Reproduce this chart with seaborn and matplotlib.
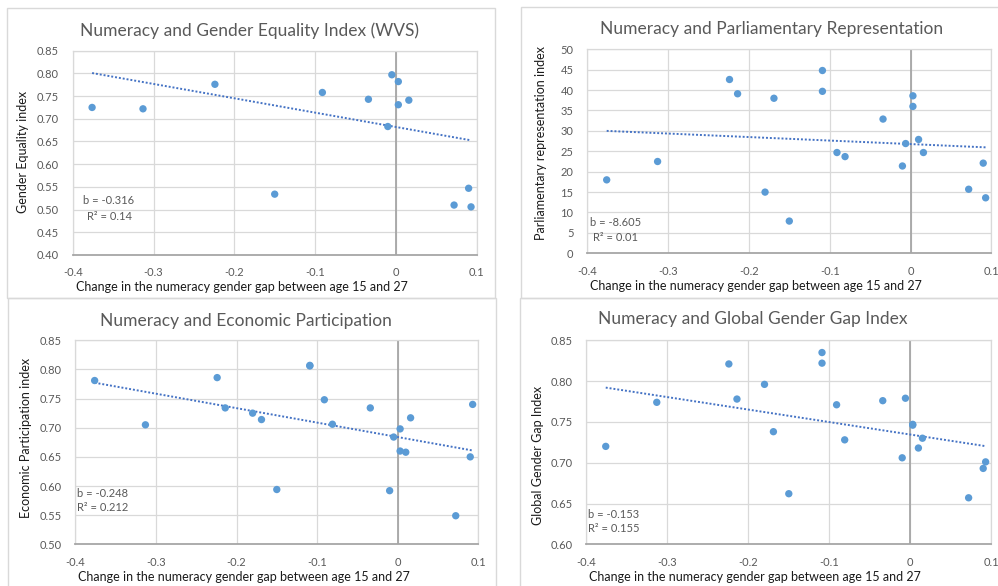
import matplotlib
matplotlib.use("Agg")
import matplotlib.pyplot as plt
import matplotlib.patches as mpatches
import numpy as np
import pandas as pd
import seaborn as sns

# ---------------- data ----------------
x_wvs = [-0.376, -0.313, -0.224, -0.150, -0.091, -0.034, -0.010, -0.005, 0.003, 0.003, 0.016, 0.072, 0.090, 0.093]
y_wvs = [0.725, 0.722, 0.776, 0.534, 0.758, 0.743, 0.683, 0.797, 0.782, 0.731, 0.741, 0.510, 0.547, 0.506]

x_parl = [-0.376, -0.313, -0.224, -0.214, -0.180, -0.169, -0.150, -0.109, -0.109, -0.091, -0.081,
          -0.034, -0.010, -0.006, 0.003, 0.003, 0.010, 0.016, 0.072, 0.090, 0.093]
y_parl = [18.0, 22.5, 42.6, 39.1, 15.0, 38.0, 7.9, 44.8, 39.7, 24.7, 23.7,
          32.9, 21.4, 26.9, 38.6, 36.0, 27.9, 24.7, 15.7, 22.1, 13.6]

x_econ = [-0.376, -0.313, -0.224, -0.214, -0.180, -0.169, -0.150, -0.109, -0.109, -0.091, -0.081,
          -0.034, -0.010, -0.005, 0.003, 0.003, 0.010, 0.016, 0.072, 0.090, 0.093]
y_econ = [0.781, 0.705, 0.786, 0.734, 0.725, 0.714, 0.594, 0.807, 0.806, 0.748, 0.706,
          0.734, 0.592, 0.684, 0.698, 0.660, 0.658, 0.717, 0.549, 0.650, 0.740]

x_ggg = [-0.376, -0.313, -0.224, -0.214, -0.180, -0.169, -0.150, -0.109, -0.109, -0.091, -0.081,
         -0.034, -0.010, -0.006, 0.003, 0.003, 0.010, 0.015, 0.072, 0.090, 0.093]
y_ggg = [0.720, 0.774, 0.821, 0.778, 0.796, 0.738, 0.662, 0.835, 0.822, 0.771, 0.728,
         0.776, 0.706, 0.779, 0.747, 0.746, 0.718, 0.730, 0.657, 0.693, 0.701]

titles = ["Numeracy and Gender Equality Index (WVS)",
          "Numeracy and Parliamentary Representation",
          "Numeracy and Economic Participation",
          "Numeracy and Global Gender Gap Index"]
ylabels = ["Gender Equality index",
           "Parliamentary representation index",
           "Economic Participation index",
           "Global Gender Gap Index"]
xlabel = "Change in the numeracy gender gap between age 15 and 27"
b_texts = ["b = -0.316", "b = -8.605", "b = -0.248", "b = -0.153"]
r2_texts = ["R\u00b2 = 0.14", "R\u00b2 = 0.01", "R\u00b2 = 0.212", "R\u00b2 = 0.155"]
trend_slope = [-0.316, -8.605, -0.248, -0.153]
trend_intercept = [0.682, 26.77, 0.684, 0.7345]
y_limits = [(0.40, 0.85), (0, 50), (0.50, 0.85), (0.60, 0.85)]
y_steps = [0.05, 5, 0.05, 0.05]
y_formats = ["{:.2f}", "{:.0f}", "{:.2f}", "{:.2f}"]
x_ticks = [-0.4, -0.3, -0.2, -0.1, 0.0, 0.1]
x_ticklabels = ["-0.4", "-0.3", "-0.2", "-0.1", "0", "0.1"]

series = [(x_wvs, y_wvs), (x_parl, y_parl), (x_econ, y_econ), (x_ggg, y_ggg)]

# ---------------- style ----------------
sns.set_theme(style="white")
plt.rcParams['font.family'] = ['Lato', 'DejaVu Sans']

W, H = 998, 586
fig = plt.figure(figsize=(W / 100, H / 100), dpi=100)
fig.patch.set_facecolor("white")

def fbox(l, t, r, b):
    return [l / W, 1 - b / H, (r - l) / W, (b - t) / H]

# plot-area boxes in pixels (left, top, right, bottom)
axes_px = [(72.7, 50.7, 476.7, 255.0),
           (587.3, 49.3, 991.3, 253.3),
           (75.3, 340.3, 478.3, 544.3),
           (586.3, 340.3, 991.3, 544.3)]
panel_px = [(7, 8, 495, 298), (521, 7, 1003, 298), (8, 298, 496, 592), (520, 298, 1003, 592)]
title_px = [(250.0, 30.7), (771.7, 29.0), (245.5, 321.0), (752.8, 319.3)]
xlabel_px = [(242.3, 287.3), (756.0, 285.7), (243.7, 576.7), (755.3, 576.7)]
ylabel_px = [(23.3, 151.7), (540.7, 142.8), (25.7, 438.3), (538.3, 455.8)]
b_px = [(83.3, 201.0), (590.0, 222.3), (76.7, 493.3), (588.3, 514.0)]
r2_px = [(86.7, 216.3), (592.7, 237.3), (76.7, 507.7), (588.3, 529.0)]

GRAY_TXT = "#595959"
GRID = "#D9D9D9"
DOT = "#5B9BD5"
TREND = "#4472C4"

for (l, t, r, b) in panel_px:
    fig.patches.append(mpatches.Rectangle((l / W, 1 - b / H), (r - l) / W, (b - t) / H,
                                          transform=fig.transFigure, fill=False,
                                          edgecolor=GRID, linewidth=1.0))

for i in range(4):
    xs, ys = series[i]
    ax = fig.add_axes(fbox(*axes_px[i]))
    df = pd.DataFrame({"x": xs, "y": ys})
    ylo, yhi = y_limits[i]
    yt = np.arange(ylo, yhi + y_steps[i] / 2, y_steps[i])
    ax.set_xlim(-0.4, 0.1)
    ax.set_ylim(ylo, yhi)
    ax.set_yticks(yt)
    ax.set_yticklabels([y_formats[i].format(v) for v in yt])
    ax.set_xticks(x_ticks)
    ax.set_xticklabels(x_ticklabels)
    ax.grid(True, color=GRID, linewidth=0.9)
    ax.set_axisbelow(True)
    ax.axvline(0, color="#A6A6A6", linewidth=1.3, zorder=1)
    for s in ["left", "right", "top"]:
        ax.spines[s].set_color(GRID)
        ax.spines[s].set_linewidth(0.9)
    ax.spines["bottom"].set_color("#A6A6A6")
    ax.spines["bottom"].set_linewidth(1.3)
    ax.tick_params(axis="both", length=0, labelsize=8, labelcolor=GRAY_TXT)
    ax.tick_params(axis="y", pad=10)
    ax.tick_params(axis="x", pad=9)

    sns.scatterplot(data=df, x="x", y="y", ax=ax, color=DOT, s=28, edgecolor="none", zorder=3)
    xr = np.array([min(xs), max(xs)])
    ax.plot(xr, trend_intercept[i] + trend_slope[i] * xr, linestyle=(0, (1, 1)),
            color=TREND, linewidth=1.4, zorder=2)
    ax.set_xlabel("")
    ax.set_ylabel("")

    tx, ty = title_px[i]
    fig.text(tx / W, 1 - ty / H, titles[i], ha="center", va="center", fontsize=12.5, color=GRAY_TXT)
    lx, ly = xlabel_px[i]
    fig.text(lx / W, 1 - ly / H, xlabel, ha="center", va="center", fontsize=9, color="#1a1a1a")
    vx, vy = ylabel_px[i]
    fig.text(vx / W, 1 - vy / H, ylabels[i], ha="center", va="center", rotation=90, fontsize=9,
             color="#1a1a1a")
    bx, by = b_px[i]
    fig.text(bx / W, 1 - by / H, b_texts[i], ha="left", va="center", fontsize=8, color=GRAY_TXT)
    rx, ry = r2_px[i]
    fig.text(rx / W, 1 - ry / H, r2_texts[i], ha="left", va="center", fontsize=8, color=GRAY_TXT)

fig.savefig("out.png", dpi=100, facecolor="white")
